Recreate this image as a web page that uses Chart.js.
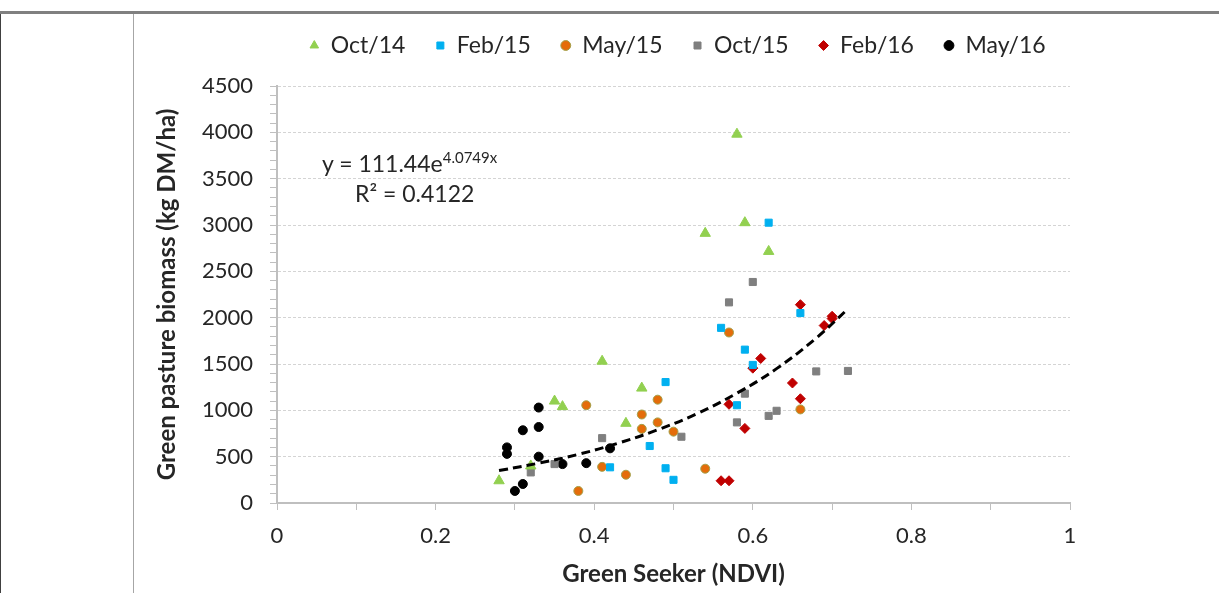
<!DOCTYPE html>
<html>
<head>
<meta charset="utf-8">
<script src="https://cdn.jsdelivr.net/npm/chart.js@4"></script>
<style>
  html, body { margin: 0; padding: 0; background: #fff; }
  #wrap { position: relative; width: 1219px; height: 593px; overflow: hidden; }
  #topline { position: absolute; left: 0; top: 11px; width: 1219px; height: 3px; background: #808080; }
  #leftline { position: absolute; left: 0; top: 14px; width: 1px; height: 579px; background: #404040; }
  #colline { position: absolute; left: 133px; top: 14px; width: 1px; height: 579px; background: #a6a6a6; }
  #eq { position: absolute; left: 322px; top: 148px; font: 23px Lato, sans-serif; color: #262626; line-height: 30px; }
  #eq sup { font-size: 15px; vertical-align: 9px; line-height: 0; }
  canvas { position: absolute; left: 0; top: 0; }
</style>
</head>
<body>
<div id="wrap">
  <canvas id="chart" width="1219" height="593"></canvas>
  <div id="topline"></div>
  <div id="leftline"></div>
  <div id="colline"></div>
  <div id="eq">y = 111.44e<sup>4.0749x</sup><br><span style="padding-left:33px">R² = 0.4122</span></div>
</div>
<script>
const seriesNames = ['Oct/14', 'Feb/15', 'May/15', 'Oct/15', 'Feb/16', 'May/16'];

const oct14X = [0.28, 0.32, 0.35, 0.36, 0.41, 0.44, 0.46, 0.54, 0.58, 0.59, 0.62];
const oct14Y = [240, 400, 1100, 1040, 1530, 860, 1240, 2910, 3980, 3025, 2715];

const feb15X = [0.42, 0.47, 0.49, 0.49, 0.50, 0.56, 0.58, 0.59, 0.60, 0.62, 0.66];
const feb15Y = [385, 615, 1305, 375, 250, 1890, 1055, 1655, 1490, 3025, 2050];

const may15X = [0.38, 0.39, 0.41, 0.44, 0.46, 0.46, 0.48, 0.48, 0.50, 0.54, 0.57, 0.66];
const may15Y = [130, 1055, 390, 305, 955, 800, 1115, 870, 770, 370, 1840, 1010];

const oct15X = [0.32, 0.35, 0.41, 0.51, 0.57, 0.58, 0.59, 0.60, 0.62, 0.63, 0.68, 0.72];
const oct15Y = [330, 420, 700, 715, 2165, 870, 1180, 2385, 940, 995, 1420, 1425];

const feb16X = [0.56, 0.57, 0.57, 0.59, 0.60, 0.61, 0.65, 0.66, 0.66, 0.69, 0.70, 0.70];
const feb16Y = [240, 240, 1065, 805, 1455, 1560, 1295, 2140, 1125, 1915, 2015, 1990];

const may16X = [0.29, 0.29, 0.30, 0.31, 0.31, 0.33, 0.33, 0.33, 0.36, 0.39, 0.42];
const may16Y = [600, 530, 130, 785, 205, 1030, 820, 500, 420, 430, 590];

// trend line
const trendX = [0.28, 0.33, 0.38, 0.43, 0.48, 0.53, 0.58, 0.63, 0.68, 0.72];
const trendY = [350, 430, 525, 645, 790, 965, 1185, 1450, 1780, 2095];

const toPoints = (xs, ys) => xs.map((x, i) => ({ x: x, y: ys[i] }));

const font = 'Lato';

const scatterSet = (label, xs, ys, style, fill, border, radius) => ({
  type: 'scatter',
  label: label,
  data: toPoints(xs, ys),
  pointStyle: style,
  pointRadius: radius,
  pointHoverRadius: radius,
  backgroundColor: fill,
  borderColor: border,
  borderWidth: 1,
  order: 1
});

// room under the legend row, and legend centred a bit to the right
const legendTweak = {
  id: 'legendTweak',
  beforeLayout(chart) {
    const lg = chart.legend;
    if (lg && !lg._gapPatched) {
      const fit = lg.fit.bind(lg);
      lg.fit = function () { fit(); this.height += 19; };
      lg._gapPatched = true;
    }
  },
  afterLayout(chart) {
    const lg = chart.legend;
    if (lg) { lg.left += 68; lg.right += 68; }
  }
};

const ctx = document.getElementById('chart').getContext('2d');
new Chart(ctx, {
  data: {
    datasets: [
      scatterSet(seriesNames[0], oct14X, oct14Y, 'triangle', '#92D050', '#92D050', 6),
      scatterSet(seriesNames[1], feb15X, feb15Y, 'rect', '#00B0F0', '#00B0F0', 5),
      scatterSet(seriesNames[2], may15X, may15Y, 'circle', '#E46C0A', '#A3A04A', 4.5),
      scatterSet(seriesNames[3], oct15X, oct15Y, 'rect', '#7F7F7F', '#7F7F7F', 5),
      scatterSet(seriesNames[4], feb16X, feb16Y, 'rectRot', '#C00000', '#C00000', 5),
      scatterSet(seriesNames[5], may16X, may16Y, 'circle', '#000000', '#000000', 4.5),
      {
        type: 'line',
        label: 'trend',
        data: toPoints(trendX, trendY),
        borderColor: '#000000',
        borderWidth: 3,
        borderDash: [9, 5],
        pointRadius: 0,
        tension: 0.4,
        fill: false,
        order: 0
      }
    ]
  },
  plugins: [legendTweak],
  options: {
    responsive: false,
    animation: false,
    layout: { padding: { left: 149, right: 149, top: 4, bottom: 0 } },
    plugins: {
      tooltip: { enabled: false },
      legend: {
        position: 'top',
        labels: {
          usePointStyle: true,
          boxWidth: 10,
          boxHeight: 7,
          padding: 30,
          color: '#262626',
          font: { family: font, size: 23 },
          filter: item => item.text !== 'trend'
        }
      }
    },
    scales: {
      x: {
        type: 'linear',
        min: 0,
        max: 1,
        afterFit: scale => { scale.height = 90; },
        ticks: {
          stepSize: 0.1,
          autoSkip: false,
          maxRotation: 0,
          padding: 13,
          color: '#262626',
          font: { family: font, size: 22 },
          callback: v => {
            const n = Math.round(v * 10);
            return n % 2 === 0 ? String(n / 10) : '';
          }
        },
        grid: {
          drawOnChartArea: false,
          tickLength: 7,
          tickColor: '#bfbfbf'
        },
        border: { color: '#bfbfbf', width: 2 },
        title: {
          display: true,
          text: 'Green Seeker (NDVI)',
          color: '#262626',
          font: { family: font, size: 24, weight: 'bold' }
        }
      },
      y: {
        type: 'linear',
        min: 0,
        max: 4500,
        afterFit: scale => { scale.width = 128; },
        ticks: {
          stepSize: 100,
          autoSkip: false,
          maxTicksLimit: 1000,
          padding: 17,
          color: '#262626',
          font: { family: font, size: 22 },
          callback: v => (v % 500 === 0 ? String(v) : '')
        },
        grid: {
          tickLength: 7,
          tickColor: '#bfbfbf',
          lineWidth: 1,
          color: c => (c.tick && c.tick.value % 500 === 0 && c.tick.value > 0 ? '#d4d4d4' : 'rgba(0,0,0,0)')
        },
        border: { color: '#bfbfbf', width: 2, dash: [3, 2] },
        title: {
          display: true,
          text: 'Green pasture biomass (kg DM/ha)',
          color: '#262626',
          font: { family: font, size: 24, weight: 'bold' }
        }
      }
    }
  }
});
</script>
</body>
</html>
